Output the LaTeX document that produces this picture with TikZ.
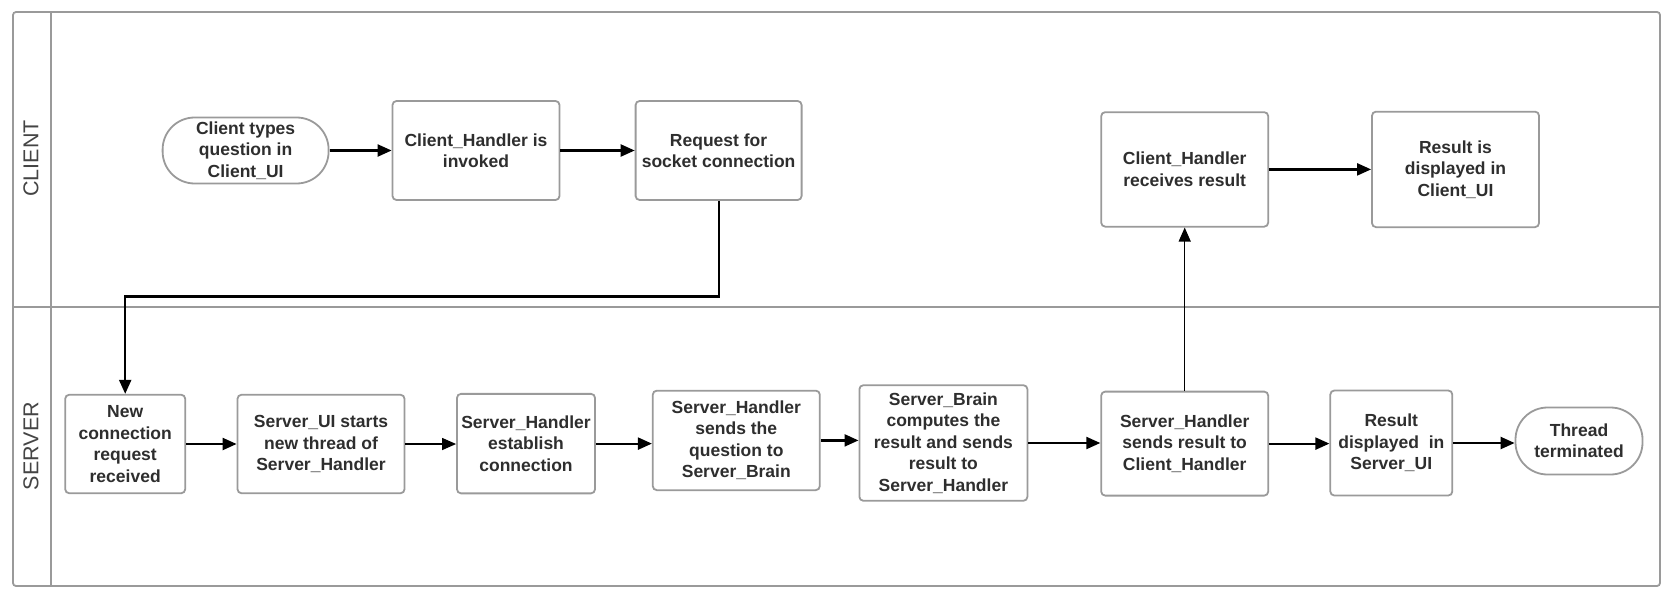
\documentclass[tikz,border=0pt]{standalone}
\usepackage{fontspec}
\setmainfont{Liberation Sans}
\usetikzlibrary{arrows.meta}
\definecolor{txt}{HTML}{2E2E2E}
\definecolor{edge}{HTML}{9A9A9A}
\definecolor{lanegray}{HTML}{444444}

\begin{document}
\begin{tikzpicture}[x=1pt,y=-1pt,
  box/.style={draw=edge, line width=1.8pt, rounded corners=4pt, fill=white,
    align=center, text=txt, inner sep=2pt,
    font=\fontsize{17.5}{21.4}\selectfont\bfseries},
  term/.style={box, rounded corners=32pt},
  flow/.style={line width=2.2pt, -{Triangle[length=14pt,width=12pt]}},
  thinflow/.style={line width=1.3pt, -{Triangle[length=14pt,width=12pt]}},
  lanetitle/.style={rotate=90, text=lanegray, font=\fontsize{21.5}{24}\selectfont}]

\useasboundingbox (0,0) rectangle (1678,605);

% swimlane pool: outer frame, title column and lane divider
\draw[draw=edge, line width=1.8pt, rounded corners=3pt] (13,12) rectangle (1660,586);
\draw[draw=edge, line width=1.8pt] (51,12) -- (51,586);
\draw[draw=edge, line width=1.8pt] (13,307) -- (1660,307);
\node[lanetitle] (laneC) at (31,158.4) {CLIENT};
\node[lanetitle] (laneS) at (31,446) {SERVER};

% client lane
\node[term, minimum width=166pt, minimum height=66pt] (c1) at (245.6,150.5) {Client types\\question in\\Client\_UI};
\node[box, minimum width=167pt, minimum height=99pt] (c2) at (476,150.5) {Client\_Handler is\\invoked};
\node[box, minimum width=166pt, minimum height=99pt] (c3) at (718.6,150.5) {Request for\\socket connection};
\node[box, minimum width=167pt, minimum height=114.5pt] (c4) at (1184.7,169.4) {Client\_Handler\\receives result};
\node[box, minimum width=167pt, minimum height=115.5pt] (c5) at (1455.5,169.4) {Result is\\displayed in\\Client\_UI};

% server lane
\node[box, minimum width=120pt, minimum height=98.5pt] (s1) at (125.2,444) {New\\connection\\request\\received};
\node[box, minimum width=167pt, minimum height=98.5pt] (s2) at (321,444) {Server\_UI starts\\new thread of\\Server\_Handler};
\node[box, minimum width=138pt, minimum height=99.5pt] (s3) at (526,443.6) {Server\_Handler\\establish\\connection};
\node[box, minimum width=167pt, minimum height=99.5pt] (s4) at (736.3,440.4) {Server\_Handler\\sends the\\question to\\Server\_Brain};
\node[box, minimum width=168pt, minimum height=115.6pt] (s5) at (943.4,443) {Server\_Brain\\computes the\\result and sends\\result to\\Server\_Handler};
\node[box, minimum width=167pt, minimum height=104pt] (s6) at (1184.7,443.6) {Server\_Handler\\sends result to\\Client\_Handler};
\node[box, minimum width=122pt, minimum height=105pt] (s7) at (1391.3,443) {Result\\displayed\ \ in\\Server\_UI};
\node[term, minimum width=127pt, minimum height=67pt] (s8) at (1579,441) {Thread\\terminated};

% connectors
\coordinate (lanecut) at (0,296.4);
\draw[flow] (c1.east) -- (c2.west);
\draw[flow] (c2.east) -- (c3.west);
\draw[flow] (c3.south) -- (c3.south |- lanecut) -| (s1.north);
\draw[flow] (c4.east) -- (c5.west);

\draw[flow] (s1.east) -- (s1.east -| s2.west);
\draw[thinflow] (s2.east) -- (s2.east -| s3.west);
\draw[flow] (s3.east) -- (s3.east -| s4.west);
\draw[flow] (s4.east) -- (s4.east -| s5.west);
\draw[flow] (s5.east) -- (s5.east -| s6.west);
\draw[flow] (s6.east) -- (s6.east -| s7.west);
\draw[flow] (s7.east) -- (s7.east -| s8.west);
\draw[thinflow] (s6.north) -- (c4.south);

\end{tikzpicture}
\end{document}
